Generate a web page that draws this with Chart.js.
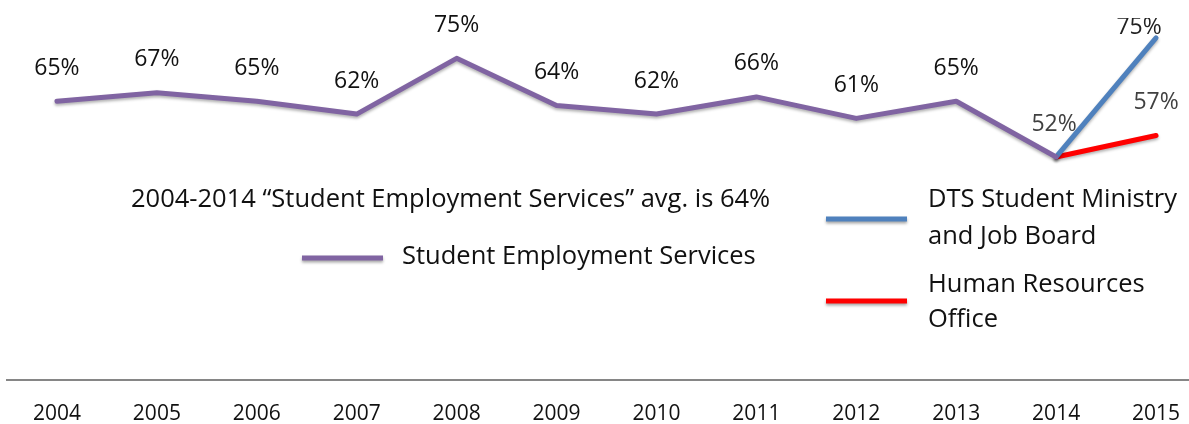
<!DOCTYPE html>
<html>
<head>
<meta charset="utf-8">
<script src="https://cdn.jsdelivr.net/npm/chart.js@4/dist/chart.umd.min.js"></script>
<style>
  html, body { margin: 0; padding: 0; background: #fff; overflow: hidden; }
  #wrap { width: 1206px; height: 424px; }
</style>
</head>
<body>
<div id="wrap"><canvas id="chart" width="1206" height="424"></canvas></div>
<script>
// ===== DATA =====
const years = ["2004", "2005", "2006", "2007", "2008", "2009", "2010", "2011", "2012", "2013", "2014", "2015"];
const sesValues = [65, 67, 65, 62, 75, 64, 62, 66, 61, 65, 52, null];
const dtsValues = [null, null, null, null, null, null, null, null, null, null, 52, 75];
const hroValues = [null, null, null, null, null, null, null, null, null, null, 52, 57];
const avgNote = "2004-2014 \u201cStudent Employment Services\u201d avg. is 64%";

const FONT = "'Open Sans', sans-serif";

// value labels: which points get one, and where it sits relative to the point
const labelStyle = [
  { show: i => i <= 10, dx: i => (i === 10 ? -2 : 0), dy: -33, color: i => (i === 10 ? "#404040" : "#111") },
  { show: i => i === 11, dx: () => -17, dy: -10, color: () => "#222", clipTop: 18 },
  { show: i => i === 11, dx: () => 0, dy: -33, color: () => "#404040" }
];

const valueLabels = {
  id: "valueLabels",
  afterDatasetsDraw(chart) {
    const ctx = chart.ctx;
    ctx.save();
    ctx.font = "23px " + FONT;
    ctx.textAlign = "center";
    ctx.textBaseline = "middle";
    chart.data.datasets.forEach((ds, di) => {
      const st = labelStyle[di];
      chart.getDatasetMeta(di).data.forEach((pt, i) => {
        const v = ds.data[i];
        if (v == null || !st.show(i)) return;
        ctx.save();
        if (st.clipTop) {
          ctx.beginPath();
          ctx.rect(0, st.clipTop, chart.width, chart.height);
          ctx.clip();
        }
        ctx.fillStyle = st.color(i);
        ctx.fillText(v + "%", pt.x + st.dx(i), pt.y + st.dy);
        ctx.restore();
      });
    });
    ctx.restore();
  }
};

// hand placed legend + average note, sitting inside the plot
const legendItems = [
  { color: "#8064A2", x: 302, y: 258, lines: ["Student Employment Services"], tx: 402, ty: [257] },
  { color: "#4F81BD", x: 826, y: 219, lines: ["DTS Student Ministry", "and Job Board"], tx: 928, ty: [200, 237] },
  { color: "#FF0000", x: 826, y: 301, lines: ["Human Resources", "Office"], tx: 928, ty: [285, 320] }
];

const customLegend = {
  id: "customLegend",
  afterDraw(chart) {
    const ctx = chart.ctx;
    ctx.save();
    ctx.font = "25.5px " + FONT;
    ctx.textBaseline = "middle";
    ctx.textAlign = "left";
    ctx.fillStyle = "#111";
    ctx.fillText(avgNote, 131, 200);
    legendItems.forEach(it => {
      ctx.save();
      ctx.shadowColor = "rgba(0,0,0,0.35)";
      ctx.shadowBlur = 3;
      ctx.shadowOffsetY = 2;
      ctx.strokeStyle = it.color;
      ctx.lineWidth = 5;
      ctx.beginPath();
      ctx.moveTo(it.x, it.y);
      ctx.lineTo(it.x + 81, it.y);
      ctx.stroke();
      ctx.restore();
      it.lines.forEach((t, k) => ctx.fillText(t, it.tx, it.ty[k]));
    });
    ctx.restore();
  }
};

// soft drop shadow under the lines
const lineShadow = {
  id: "lineShadow",
  beforeDatasetsDraw(chart) {
    const ctx = chart.ctx;
    ctx.save();
    ctx.shadowColor = "rgba(0,0,0,0.3)";
    ctx.shadowBlur = 3;
    ctx.shadowOffsetY = 2;
  },
  afterDatasetsDraw(chart) {
    chart.ctx.restore();
  }
};

const lineBase = {
  borderWidth: 5,
  pointRadius: 0,
  pointHoverRadius: 0,
  fill: false,
  tension: 0,
  spanGaps: false,
  borderCapStyle: "round",
  borderJoinStyle: "round",
  clip: false
};

new Chart(document.getElementById("chart"), {
  type: "line",
  data: {
    labels: years,
    datasets: [
      { ...lineBase, label: "Student Employment Services", data: sesValues, borderColor: "#8064A2", yAxisID: "y" },
      { ...lineBase, label: "DTS Student Ministry and Job Board", data: dtsValues, borderColor: "#4F81BD", yAxisID: "y2" },
      { ...lineBase, label: "Human Resources Office", data: hroValues, borderColor: "#FF0000", yAxisID: "y" }
    ]
  },
  options: {
    responsive: false,
    animation: false,
    events: [],
    layout: { padding: { left: 7, right: 0, top: 0, bottom: 0 } },
    plugins: {
      legend: { display: false },
      tooltip: { enabled: false }
    },
    scales: {
      x: {
        offset: true,
        grid: { display: false, drawTicks: false },
        border: { display: true, color: "#868686", width: 2 },
        ticks: { color: "#111", font: { family: FONT, size: 21 }, padding: 21, maxRotation: 0, autoSkip: false },
        afterFit(scale) { scale.height = 44; }
      },
      y: { display: false, min: 0, max: 88.6 },
      y2: { display: false, min: 8.9, max: 82.3 }
    }
  },
  plugins: [lineShadow, valueLabels, customLegend]
});
</script>
</body>
</html>
